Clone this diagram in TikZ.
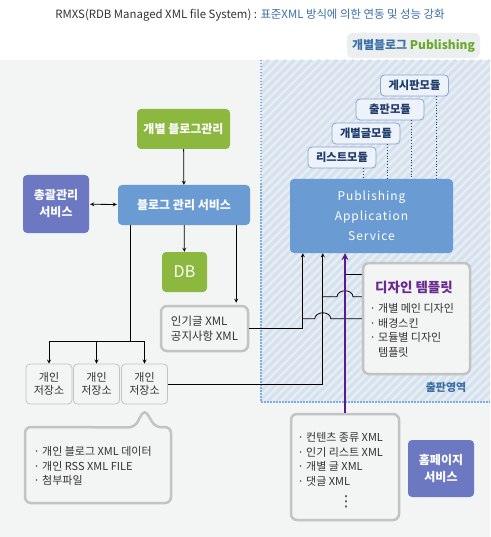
\documentclass[tikz,border=0pt]{standalone}
\usepackage{fontspec}
\setmainfont{Noto Sans CJK KR}
\newfontfamily\symfont{DejaVu Sans}
\usepackage{tikz}
\usetikzlibrary{calc, arrows}
\definecolor{bggray}{HTML}{F3F4F4}
\definecolor{tabgray}{HTML}{ECEFEF}
\definecolor{hatchbase}{HTML}{E6EDF5}
\definecolor{hatchline}{HTML}{D6E1EE}
\definecolor{areablue}{HTML}{7DAEE3}
\definecolor{titleblue}{HTML}{3B6FA8}
\definecolor{pubgreen}{HTML}{6AA82E}
\definecolor{boxgreen}{HTML}{8CB83F}
\definecolor{boxblue}{HTML}{6A9BD3}
\definecolor{boxpurple}{HTML}{6D78C3}
\definecolor{modfill}{HTML}{EEF2FA}
\definecolor{moddraw}{HTML}{8AA6D0}
\definecolor{modtext}{HTML}{1F3C6B}
\definecolor{framegray}{HTML}{C2C3C3}
\definecolor{textgray}{HTML}{333333}
\definecolor{tplpurple}{HTML}{6B2A90}
\definecolor{feedpurple}{HTML}{5B1A8C}
\tikzstyle{svc}       = [rectangle, rounded corners=4pt, text=white, align=center, font=\fontsize{12}{17}\selectfont\bfseries]
\tikzstyle{greenbox}  = [svc, fill=boxgreen]
\tikzstyle{bluebox}   = [svc, fill=boxblue]
\tikzstyle{purplebox} = [svc, fill=boxpurple]
\tikzstyle{frame}     = [rectangle, rounded corners=6pt, draw=framegray, line width=2.5pt, fill=bggray, text=textgray, font=\fontsize{11.5}{15}\selectfont]
\tikzstyle{store}     = [rectangle, rounded corners=4pt, draw=framegray, line width=0.8pt, fill=bggray, text=textgray, align=center, minimum width=46pt, minimum height=40pt, font=\fontsize{11}{13}\selectfont]
\tikzstyle{module}    = [rectangle, rounded corners=4pt, draw=moddraw, line width=0.8pt, fill=modfill, text=modtext, minimum width=68pt, minimum height=21pt, font=\fontsize{11.3}{12}\selectfont\bfseries]
\tikzstyle{bullets}   = [align=left, text=textgray, font=\fontsize{11}{14.6}\selectfont]
\tikzstyle{arrow}     = [line width=0.8pt, ->, >=stealth]
\tikzstyle{link}      = [line width=0.8pt]
\tikzstyle{feed}      = [line width=2pt, draw=feedpurple, ->, >=stealth]
\tikzstyle{modline}   = [line width=0.8pt, draw=modtext, dotted]
\tikzstyle{area}      = [line width=1.5pt, draw=areablue, dash pattern=on 1.5pt off 1.5pt]

\begin{document}
\begin{tikzpicture}[x=1pt, y=-1pt, node distance=24pt]
    % background and publishing area
    \fill[white] (0,0) rectangle (490,537);
    \fill[bggray] (0,60) rectangle (490,537);
    \begin{scope}
      \clip (261,60) rectangle (490,402);
      \fill[hatchbase] (261,60) rectangle (490,402);
      \foreach \i in {-90,-81.5,...,490}
        \draw[hatchline, line width=3pt] (\i,402) -- ++(342,-342);
    \end{scope}
    \draw[area] (261,60) -- (261,402) -- (490,402);

    \node (title) [text=textgray, font=\fontsize{11.4}{13}\selectfont] at (250,15) {RMXS(RDB Managed XML file System) : \textcolor{titleblue}{표준XML 방식에 의한 연동 및 성능 강화}};
    \node (tab) [fill=tabgray, rounded corners=5pt, minimum width=133pt, minimum height=25pt, font=\fontsize{12}{14}\selectfont\bfseries] at (413.5,45.5) {\textcolor{titleblue}{개별블로그} \textcolor{pubgreen}{Publishing}};
    \node (pubarea) [text=titleblue, font=\fontsize{11}{13}\selectfont\bfseries] at (446,387) {출판영역};

    % blog management side
    \node (blogmgr) [greenbox, minimum width=93pt, minimum height=40pt]  at (183.5,129) {개별 블로그관리};
    \node (blogsvc) [bluebox, minimum width=132pt, minimum height=40pt]  at (184,205)   {블로그 관리 서비스};
    \node (total)   [purplebox, minimum width=66pt, minimum height=58pt] at (56,204)    {총괄관리\\서비스};
    \node (db)      [greenbox, minimum width=45pt, minimum height=40pt, font=\fontsize{16}{18}\selectfont] at (184.5,272) {DB};
    \node (popular) [frame, align=left, minimum width=87pt, minimum height=45pt] at (204.5,328.5) {인기글 XML\\공지사항 XML};
    \node (s1) [store] at (49,384)                    {개인\\저장소};
    \node (s2) [store, right of=s1, xshift=23.5pt]    {개인\\저장소};
    \node (s3) [store, right of=s2, xshift=24pt]      {개인\\저장소};

    \coordinate (tip) at ($(s3.south)+(0,5)$);
    \draw[frame] (25,427) -- ($(tip)+(-10,18)$) -- (tip) -- ($(tip)+(11,18)$) -- (171,427) -- (171,503) -- (25,503) -- cycle;
    \node (notetext) [bullets, anchor=west] at (30,466) {· 개인 블로그 XML 데이터\\· 개인 RSS XML FILE\\· 첨부파일};

    % publishing side
    \node (pas)   [bluebox, minimum width=163pt, minimum height=74pt, font=\fontsize{12}{20}\selectfont\addfontfeature{LetterSpace=8}] at (371.5,216) {Publishing\\Application\\Service};
    \node (list)  [module] at (342,157.5)                   {리스트모듈};
    \node (indiv) [module, above of=list, xshift=24pt]      {개별글모듈};
    \node (pub)   [module, above of=indiv, xshift=24pt]     {출판모듈};
    \node (board) [module, above of=pub, xshift=24.5pt]     {게시판모듈};

    \node (design)      [frame, minimum width=107pt, minimum height=111pt] at (416.5,318.5) {};
    \node (designtitle) [text=tplpurple, font=\fontsize{13.5}{15}\selectfont\bfseries] at (414,287) {디자인 템플릿};
    \node (designlist)  [bullets, anchor=north west] at (366,300) {· 개별 메인 디자인\\· 배경스킨\\· 모듈별 디자인\\\phantom{· }템플릿};

    \node (xmlbox)  [frame, minimum width=108pt, minimum height=106pt] at (345,467) {};
    \node (xmltext) [bullets, anchor=north west] at (294,429) {· 컨텐츠 종류 XML\\· 인기 리스트 XML\\· 개별 글 XML\\· 댓글 XML};
    \node (xmldots) [text=textgray, font=\fontsize{15}{16}\symfont] at (346,502) {⋮};
    \node (home)    [purplebox, minimum width=66pt, minimum height=57pt] at (441,468.5) {홈페이지\\서비스};

    % connectors
    \draw [arrow] (blogmgr) -- (blogsvc);
    \draw [arrow] (blogsvc) -- (db);
    \draw [arrow, <->, shorten <=1pt, shorten >=1pt] (total) -- (blogsvc);

    \coordinate (popin) at ($(blogsvc.south east)+(-14,0)$);
    \draw [arrow, shorten >=2pt] (popin) -- (popin |- popular.north);

    \coordinate (storeout) at ($(blogsvc.south west)+(13,0)$);
    \coordinate (bus) at ($(s1.north)+(0,-22)$);
    \draw [link] (storeout) -- (storeout |- bus);
    \draw [link] (bus) -- (bus -| s3.north);
    \foreach \s in {s1,s2,s3}
      \draw [arrow] (\s.north |- bus) -- (\s.north);

    \coordinate (pin1) at ($(pas.south west)+(13,0)$);
    \coordinate (pin2) at ($(pas.south west)+(33,0)$);
    \draw [arrow] (popular.east) -| (pin1);
    \draw [arrow] (s3.east) -| (pin2);

    \coordinate (d1) at ($(design.north west)+(0,13)$);
    \coordinate (d2) at ($(design.north west)+(0,35)$);
    \coordinate (d3) at ($(design.north west)+(0,57)$);
    \draw [link] (d1) -- (d1 -| xmlbox.north);
    \draw [link] (d2) -- ($(d2 -| xmlbox.north)+(8,0)$) arc[start angle=0, end angle=-180, x radius=8, y radius=6] -- (d2 -| pin2);
    \draw [link] (d3) -- ($(d3 -| pin2)+(8,0)$) arc[start angle=0, end angle=-180, x radius=8, y radius=6] -- (d3 -| pin1);

    \draw [feed] (xmlbox.north) -- (xmlbox.north |- pas.south);

    \foreach \m in {list, indiv, pub, board} {
      \coordinate (\m-foot) at ($(\m.south east)+(-13,0)$);
      \draw [modline] (\m-foot) -- (\m-foot |- pas.north);
    }
  \end{tikzpicture}
\end{document}
